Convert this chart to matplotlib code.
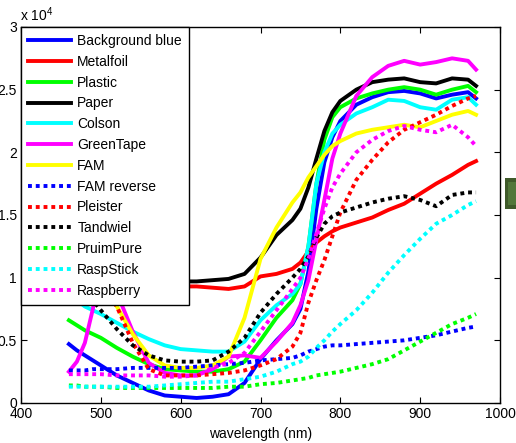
import numpy as np
import matplotlib
matplotlib.use("Agg")
import matplotlib.pyplot as plt
from matplotlib.patches import Rectangle

plt.rcParams['font.family'] = ['Liberation Sans', 'DejaVu Sans']
plt.rcParams['mathtext.fontset'] = 'custom'
plt.rcParams['mathtext.rm'] = 'Liberation Sans'

# golflengte (nm) en reflectie (x 10^4)
wl = [460, 470, 480, 490, 500, 520, 540, 560, 580, 600, 620, 640, 660, 680, 700, 720,
      740, 750, 760, 770, 780, 790, 800, 820, 840, 860, 880, 900, 920, 940, 960, 970]

background_blue = [0.47, 0.42, 0.38, 0.34, 0.30, 0.22, 0.16, 0.10, 0.06, 0.05, 0.04, 0.05, 0.07, 0.16, 0.35, 0.50,
                   0.63, 0.75, 1.05, 1.55, 1.92, 2.12, 2.25, 2.38, 2.44, 2.48, 2.49, 2.47, 2.43, 2.46, 2.48, 2.43]
metalfoil = [1.25, 1.20, 1.15, 1.10, 1.05, 1.00, 0.97, 0.95, 0.94, 0.93, 0.93, 0.92, 0.91, 0.93, 1.01, 1.03,
             1.07, 1.12, 1.21, 1.28, 1.33, 1.37, 1.40, 1.44, 1.48, 1.54, 1.59, 1.67, 1.75, 1.82, 1.90, 1.93]
plastic = [0.66, 0.62, 0.58, 0.55, 0.52, 0.44, 0.37, 0.31, 0.27, 0.26, 0.25, 0.25, 0.27, 0.33, 0.50, 0.68,
           0.82, 0.95, 1.25, 1.75, 2.10, 2.28, 2.36, 2.43, 2.47, 2.50, 2.52, 2.50, 2.46, 2.50, 2.53, 2.48]
paper = [1.35, 1.30, 1.25, 1.20, 1.15, 1.07, 1.02, 0.99, 0.97, 0.97, 0.97, 0.98, 0.99, 1.03, 1.16, 1.34,
         1.46, 1.55, 1.72, 1.95, 2.17, 2.32, 2.41, 2.50, 2.56, 2.58, 2.59, 2.56, 2.55, 2.59, 2.58, 2.53]
colson = [0.90, 0.82, 0.77, 0.74, 0.71, 0.64, 0.57, 0.51, 0.46, 0.43, 0.42, 0.41, 0.41, 0.49, 0.66, 0.78,
          0.87, 0.95, 1.25, 1.75, 2.00, 2.15, 2.22, 2.31, 2.36, 2.42, 2.41, 2.36, 2.34, 2.42, 2.44, 2.38]
greentape = [0.25, 0.33, 0.48, 0.75, 1.10, 0.88, 0.57, 0.32, 0.24, 0.22, 0.22, 0.27, 0.37, 0.38, 0.36, 0.49,
             0.64, 0.78, 0.98, 1.30, 1.62, 1.95, 2.15, 2.45, 2.60, 2.69, 2.73, 2.70, 2.72, 2.75, 2.73, 2.66]
fam = [1.40, 1.30, 1.20, 1.05, 0.95, 0.77, 0.55, 0.38, 0.30, 0.28, 0.28, 0.30, 0.37, 0.68, 1.15, 1.40,
       1.60, 1.68, 1.80, 1.89, 1.98, 2.05, 2.09, 2.15, 2.18, 2.20, 2.22, 2.20, 2.25, 2.30, 2.33, 2.30]
fam_reverse = [0.26, 0.26, 0.26, 0.27, 0.27, 0.27, 0.28, 0.28, 0.28, 0.28, 0.29, 0.30, 0.31, 0.32, 0.34, 0.35,
               0.36, 0.38, 0.41, 0.43, 0.45, 0.46, 0.46, 0.47, 0.48, 0.49, 0.50, 0.52, 0.54, 0.57, 0.60, 0.61]
pleister = [1.30, 1.25, 1.15, 1.05, 0.95, 0.77, 0.48, 0.27, 0.22, 0.22, 0.22, 0.23, 0.24, 0.26, 0.30, 0.35,
            0.45, 0.56, 0.80, 0.98, 1.14, 1.33, 1.52, 1.78, 1.94, 2.08, 2.18, 2.24, 2.30, 2.37, 2.43, 2.45]
tandwiel = [1.10, 1.00, 0.90, 0.82, 0.74, 0.59, 0.46, 0.38, 0.34, 0.33, 0.33, 0.34, 0.41, 0.52, 0.72, 0.87,
            1.00, 1.07, 1.17, 1.32, 1.43, 1.49, 1.52, 1.56, 1.60, 1.63, 1.65, 1.62, 1.57, 1.66, 1.68, 1.68]
pruimpure = [0.14, 0.14, 0.13, 0.13, 0.13, 0.12, 0.12, 0.12, 0.12, 0.12, 0.12, 0.12, 0.13, 0.13, 0.15, 0.16,
             0.18, 0.19, 0.20, 0.22, 0.23, 0.24, 0.25, 0.28, 0.31, 0.35, 0.42, 0.49, 0.56, 0.63, 0.68, 0.71]
raspstick = [0.13, 0.13, 0.13, 0.13, 0.13, 0.13, 0.13, 0.13, 0.14, 0.15, 0.16, 0.17, 0.17, 0.19, 0.21, 0.25,
             0.31, 0.33, 0.37, 0.44, 0.50, 0.57, 0.63, 0.74, 0.88, 1.04, 1.18, 1.31, 1.43, 1.50, 1.58, 1.61]
raspberry = [0.23, 0.23, 0.23, 0.23, 0.23, 0.22, 0.22, 0.22, 0.21, 0.21, 0.22, 0.28, 0.32, 0.40, 0.57, 0.74,
             0.91, 1.00, 1.15, 1.35, 1.55, 1.72, 1.83, 2.00, 2.10, 2.17, 2.21, 2.18, 2.16, 2.22, 2.12, 2.05]

series = [
    ("Background blue", background_blue, "#0000ff", "-"),
    ("Metalfoil", metalfoil, "#ff0000", "-"),
    ("Plastic", plastic, "#00ff00", "-"),
    ("Paper", paper, "#000000", "-"),
    ("Colson", colson, "#00ffff", "-"),
    ("GreenTape", greentape, "#ff00ff", "-"),
    ("FAM", fam, "#ffff00", "-"),
    ("FAM reverse", fam_reverse, "#0000ff", ":"),
    ("Pleister", pleister, "#ff0000", ":"),
    ("Tandwiel", tandwiel, "#000000", ":"),
    ("PruimPure", pruimpure, "#00ff00", ":"),
    ("RaspStick", raspstick, "#00ffff", ":"),
    ("Raspberry", raspberry, "#ff00ff", ":"),
]

fig = plt.figure(figsize=(5.16, 4.43), dpi=100)
ax = fig.add_axes([21/516, 1 - 403/443, 479/516, 376/443])

for naam, y, kleur, stijl in series:
    ls = "-" if stijl == "-" else (0, (1, 1))
    ax.plot(wl, y, color=kleur, linestyle=ls, linewidth=2.8, label=naam)

ax.set_xlim(400, 1000)
ax.set_ylim(0, 3)
ax.set_xticks(np.arange(400, 1001, 100))
ax.set_yticks([0, 0.5, 1, 1.5, 2, 2.5, 3])
ax.set_yticklabels(["0", "0.5", "1", "1.5", "2", "2.5", "3"])
ax.tick_params(direction="in", top=True, right=True, length=4, labelsize=10, pad=3)
for s in ax.spines.values():
    s.set_linewidth(1.0)
ax.set_xlabel("wavelength (nm)", fontsize=10, labelpad=4)

leg = ax.legend(loc="upper left", fontsize=10, frameon=True, fancybox=False,
                edgecolor="black", framealpha=1, borderaxespad=0, handlelength=3.1,
                handletextpad=0.45, labelspacing=0.49, borderpad=0.5)
leg.get_frame().set_linewidth(1.0)

fig.text(20/516, 1 - 21/443, "x 10$^{4}$", fontsize=10, ha="left", va="baseline")

# groen blokje rechts in de afbeelding
fig.patches.append(Rectangle((505/516, 1 - 209/443), 11/516, 31/443,
                             transform=fig.transFigure, facecolor="#3f5a2a", edgecolor="none"))
fig.patches.append(Rectangle((508/516, 1 - 205/443), 8/516, 23/443,
                             transform=fig.transFigure, facecolor="#52773a", edgecolor="none"))

fig.savefig("out.png", dpi=100)
